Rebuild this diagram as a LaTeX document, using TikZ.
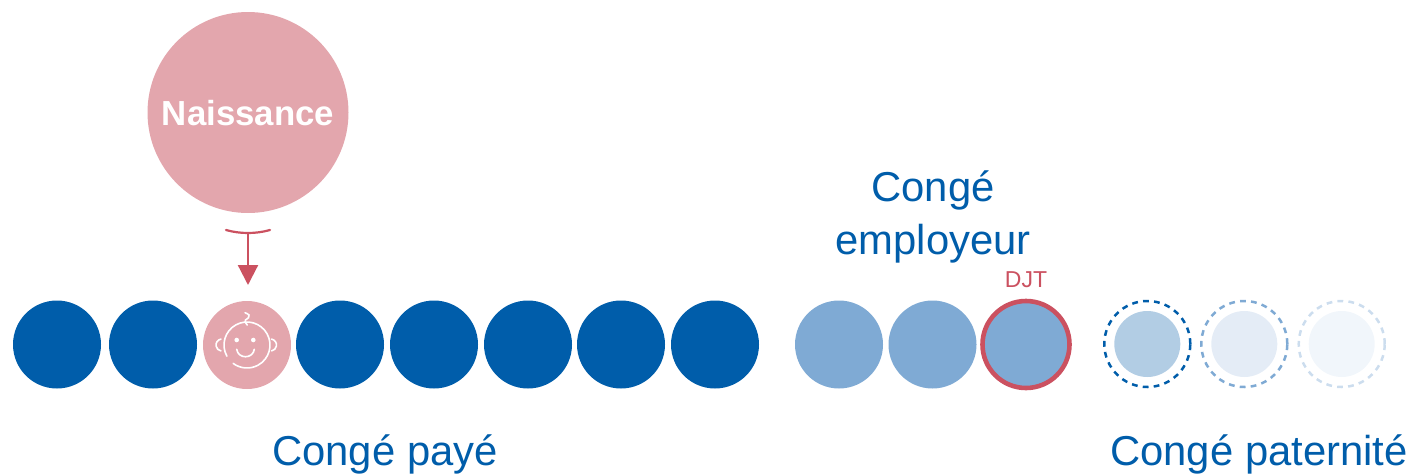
\documentclass[tikz,border=0pt]{standalone}
\usepackage{fontspec}
\setmainfont{Liberation Sans}
\usetikzlibrary{arrows.meta}
\definecolor{navy}{HTML}{005DAA}
\definecolor{midblue}{HTML}{7FAAD4}
\definecolor{pinkc}{HTML}{E3A6AD}
\definecolor{redc}{HTML}{CB5160}
\definecolor{dash1}{HTML}{005DAA}
\definecolor{dash2}{HTML}{7FAAD4}
\definecolor{dash3}{HTML}{CCDDEE}
\definecolor{in1}{HTML}{B2CDE4}
\definecolor{in2}{HTML}{E4ECF6}
\definecolor{in3}{HTML}{F1F6FB}
\tikzset{
  x=1pt,y=-1pt,
  dot/.style={circle,draw=none,inner sep=0pt,minimum size=88pt},
  inner/.style={circle,draw=none,inner sep=0pt,minimum size=66pt},
  ring/.style={circle,line width=2.5pt,inner sep=0pt,minimum size=86pt,dash pattern=on 5.8pt off 5.2pt,fill=none},
  label/.style={text=navy,font=\fontsize{41.8}{52.5}\selectfont,inner sep=0pt,align=center},
  babyline/.style={draw=white,line width=1.6pt,line cap=round,fill=none}
}
\begin{document}
\begin{tikzpicture}
\useasboundingbox (0,0) rectangle (1413,474);
\node[circle,fill=pinkc,inner sep=0pt,minimum size=201pt] (naissance) at (248,112.5) {};
\node[text=white,font=\fontsize{34.8}{38}\selectfont\bfseries,inner sep=0pt] (naissancetext) at (248,113) {Naissance};
\foreach \n/\x in {a/57,b/153,d/340,e/434,f/528,g/621,h/715}
  \node[dot,fill=navy] (\n) at (\x,344.5) {};
\node[dot,fill=pinkc] (baby) at (247,345) {};
\node[dot,fill=midblue] (i) at (839,344.5) {};
\node[dot,fill=midblue] (j) at (932.5,344.5) {};
\node[circle,fill=midblue,draw=redc,line width=4.6pt,inner sep=0pt,minimum size=87pt] (k) at (1026,344.5) {};
\node[inner,fill=in1] (l) at (1147.3,344) {};
\node[inner,fill=in2] (m) at (1244.3,344) {};
\node[inner,fill=in3] (n) at (1341.7,344) {};
\node[ring,draw=dash1] (lr) at (1147.3,344) {};
\node[ring,draw=dash2] (mr) at (1244.3,344) {};
\node[ring,draw=dash3] (nr) at (1341.7,344) {};
% T-bar and arrow
\coordinate (barL) at (226,230);
\coordinate (barR) at (270,230);
\coordinate (barM) at (248,233);
\coordinate (tip) at (248,285);
\draw[redc,line width=2.2pt,line cap=round] (barL) .. controls (240,234) and (256,234) .. (barR);
\draw[redc,line width=2.2pt,-{Triangle[length=20pt,width=20pt]}] (barM) -- (tip);
% baby face
\draw[babyline] (247,345) ++(151:23) arc[start angle=151,end angle=487,radius=23];
\draw[babyline] (222,345) ++(-100:6) arc[start angle=-100,end angle=-260,radius=6];
\draw[babyline] (270.5,345) ++(-80:6) arc[start angle=-80,end angle=80,radius=6];
\fill[white] (236.7,340) circle[radius=2.3];
\fill[white] (253.3,340) circle[radius=2.3];
\draw[babyline] (236.7,349.3) .. controls (238,359.2) and (253,359.2) .. (254.3,349.3);
\draw[babyline] (247.3,325) .. controls (245,322) and (244.5,321.5) .. (245.5,320) .. controls (248,318.5) and (250,317) .. (249,315) .. controls (248,313.5) and (246,313.5) .. (245,312.7);
% labels
\node[label] (employeur) at (933,217) {Congé\\employeur};
\node[label] (paye) at (385,454) {Congé payé};
\node[label] (paternite) at (1259,454) {Congé paternité};
\node[text=redc,font=\fontsize{23}{26}\selectfont,inner sep=0pt] (djt) at (1026,280) {DJT};
\end{tikzpicture}
\end{document}
